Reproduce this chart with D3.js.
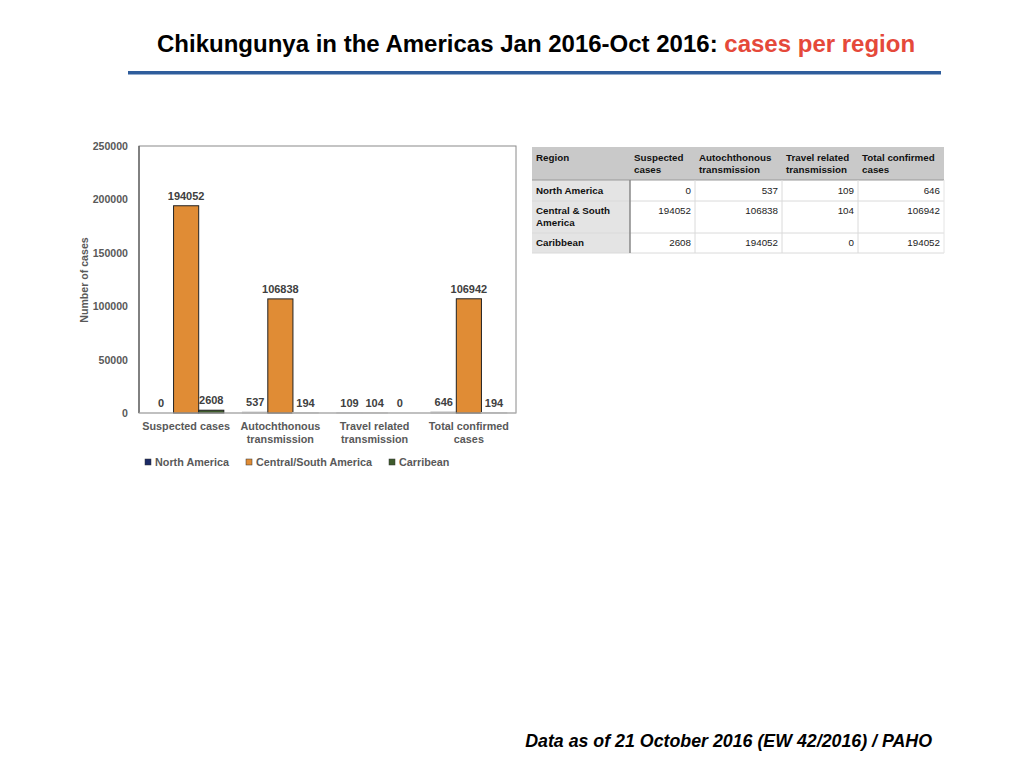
<!DOCTYPE html>
<html><head><meta charset="utf-8">
<script src="https://cdn.jsdelivr.net/npm/d3@7/dist/d3.min.js"></script>
<style>body{margin:0;background:#fff}svg{display:block}</style>
</head><body>
<svg id="c" width="1024" height="768"></svg>
<script>
const categories = [["Suspected cases"],["Autochthonous","transmission"],["Travel related","transmission"],["Total confirmed","cases"]];
const seriesNames = ["North America","Central/South America","Carribean"];
const northAmerica = [0,537,109,646];
const centralSouth = [194052,106838,104,106942];
const carribean = [2608,194,0,194];
const yTicks = [0,50000,100000,150000,200000,250000];
const tableHeader = [["Region"],["Suspected","cases"],["Autochthonous","transmission"],["Travel related","transmission"],["Total confirmed","cases"]];
const tableRegions = [["North America"],["Central & South","America"],["Caribbean"]];
const tableValues = [[0,537,109,646],[194052,106838,104,106942],[2608,194052,0,194052]];

const colors = ["#1b2a66","#e08c35","#3e5b2c"];
const svg = d3.select("#c");
const F = "Liberation Sans, Arial, sans-serif";

// Title
const t = svg.append("text").attr("x",157).attr("y",52).attr("font-family","Liberation Sans Narrow, Arial Narrow, sans-serif").attr("font-weight","bold").attr("font-size",24);
t.append("tspan").attr("fill","#000").text("Chikungunya in the Americas Jan 2016-Oct 2016: ");
t.append("tspan").attr("fill","#e5493a").text("cases per region");
svg.append("rect").attr("x",128).attr("y",71).attr("width",813).attr("height",3.5).attr("fill","#2f5d9c");

// Footer
svg.append("text").attr("x",932).attr("y",747).attr("text-anchor","end").attr("font-family",F).attr("font-weight","bold").attr("font-style","italic").attr("font-size",17.8).attr("fill","#000").text("Data as of 21 October 2016 (EW 42/2016) / PAHO");

// Chart
const L=139,R=516,T=146,B=413;
const y = d3.scaleLinear().domain([0,250000]).range([B,T]);
const x0 = d3.scaleBand().domain(d3.range(4)).range([L,R]).paddingInner(0.2).paddingOuter(0.1);
const x1 = d3.scaleBand().domain(d3.range(3)).range([0,x0.bandwidth()]);
const series = [northAmerica,centralSouth,carribean];

svg.append("rect").attr("x",L).attr("y",T).attr("width",R-L).attr("height",B-T).attr("fill","none").attr("stroke","#8a8a8a").attr("stroke-width",1);
svg.append("line").attr("x1",L).attr("x2",L).attr("y1",T).attr("y2",B).attr("stroke","#555").attr("stroke-width",1.2);

const yAxis = d3.axisLeft(y).tickValues(yTicks).tickSize(0).tickPadding(11).tickFormat(d3.format("d"));
const ya = svg.append("g").attr("transform",`translate(${L},0)`).call(yAxis);
ya.select(".domain").remove();
ya.selectAll("text").attr("font-family",F).attr("font-weight","bold").attr("font-size",10.6).attr("fill","#595959");

svg.append("text").attr("transform","translate(88,280) rotate(-90)").attr("text-anchor","middle").attr("font-family",F).attr("font-weight","bold").attr("font-size",10.6).attr("fill","#595959").text("Number of cases");

const g = svg.append("g");
series.forEach((s,si)=>{
  s.forEach((v,ci)=>{
    const bx = x0(ci)+x1(si);
    g.append("rect").attr("x",bx).attr("y",y(v)).attr("width",x1.bandwidth()).attr("height",B-y(v))
      .attr("fill",colors[si]).attr("stroke", v>1000?"#222":"#b0b0b0").attr("stroke-width",v>1000?1:1.5);
    g.append("text").attr("x",bx+x1.bandwidth()/2).attr("y",y(v)-6).attr("text-anchor","middle")
      .attr("font-family",F).attr("font-weight","bold").attr("font-size",11).attr("fill","#404040").text(v);
  });
});
// bottom axis line
svg.append("line").attr("x1",L).attr("x2",R).attr("y1",B).attr("y2",B).attr("stroke","#bbb").attr("stroke-width",1);

categories.forEach((c,ci)=>{
  const tx = svg.append("text").attr("x",x0(ci)+x0.bandwidth()/2).attr("y",430).attr("text-anchor","middle")
    .attr("font-family",F).attr("font-weight","bold").attr("font-size",10.8).attr("fill","#595959");
  c.forEach((line,li)=>tx.append("tspan").attr("x",x0(ci)+x0.bandwidth()/2).attr("dy",li?13:0).text(line));
});

// Legend
const legX=[145,246,389];
seriesNames.forEach((n,i)=>{
  svg.append("rect").attr("x",legX[i]).attr("y",459).attr("width",6).attr("height",6).attr("fill",colors[i]).attr("stroke","#333").attr("stroke-width",0.5);
  svg.append("text").attr("x",legX[i]+10).attr("y",466).attr("font-family",F).attr("font-weight","bold").attr("font-size",10.8).attr("fill","#595959").text(n);
});

// Table
const colX=[532,630,695,782,858,944];
const rowY=[147,180,201,233,253];
const tg = svg.append("g");
tg.append("rect").attr("x",colX[0]).attr("y",rowY[0]).attr("width",colX[5]-colX[0]).attr("height",rowY[1]-rowY[0]).attr("fill","#c9c9c9");
tg.append("rect").attr("x",colX[0]).attr("y",rowY[1]).attr("width",colX[1]-colX[0]).attr("height",rowY[4]-rowY[1]).attr("fill","#e4e4e4");
for(let r=2;r<=4;r++) tg.append("line").attr("x1",colX[0]).attr("x2",colX[5]).attr("y1",rowY[r]).attr("y2",rowY[r]).attr("stroke","#dadada");
tg.append("line").attr("x1",colX[0]).attr("x2",colX[5]).attr("y1",rowY[1]).attr("y2",rowY[1]).attr("stroke","#9a9a9a").attr("stroke-width",1.2);
for(let c=2;c<5;c++) tg.append("line").attr("x1",colX[c]).attr("x2",colX[c]).attr("y1",rowY[1]).attr("y2",rowY[4]).attr("stroke","#dadada");
tg.append("line").attr("x1",colX[5]).attr("x2",colX[5]).attr("y1",rowY[1]).attr("y2",rowY[4]).attr("stroke","#e4e4e4");
tg.append("line").attr("x1",colX[1]).attr("x2",colX[1]).attr("y1",rowY[1]).attr("y2",rowY[4]).attr("stroke","#888").attr("stroke-width",1.5);

tableHeader.forEach((h,i)=>{
  const tx=tg.append("text").attr("font-family",F).attr("font-weight","bold").attr("font-size",9.8).attr("fill","#111");
  h.forEach((line,li)=>tx.append("tspan").attr("x",colX[i]+4).attr("y",161+li*12).text(line));
});
const rowBase=[194,214,246];
tableRegions.forEach((r,ri)=>{
  const tx=tg.append("text").attr("font-family",F).attr("font-weight","bold").attr("font-size",9.8).attr("fill","#111");
  r.forEach((line,li)=>tx.append("tspan").attr("x",colX[0]+4).attr("y",rowBase[ri]+li*12).text(line));
  tableValues[ri].forEach((v,ci)=>{
    tg.append("text").attr("x",colX[ci+2]-4).attr("y",rowBase[ri]).attr("text-anchor","end").attr("font-family",F).attr("font-size",9.8).attr("fill","#222").text(v);
  });
});
</script>
</body></html>
